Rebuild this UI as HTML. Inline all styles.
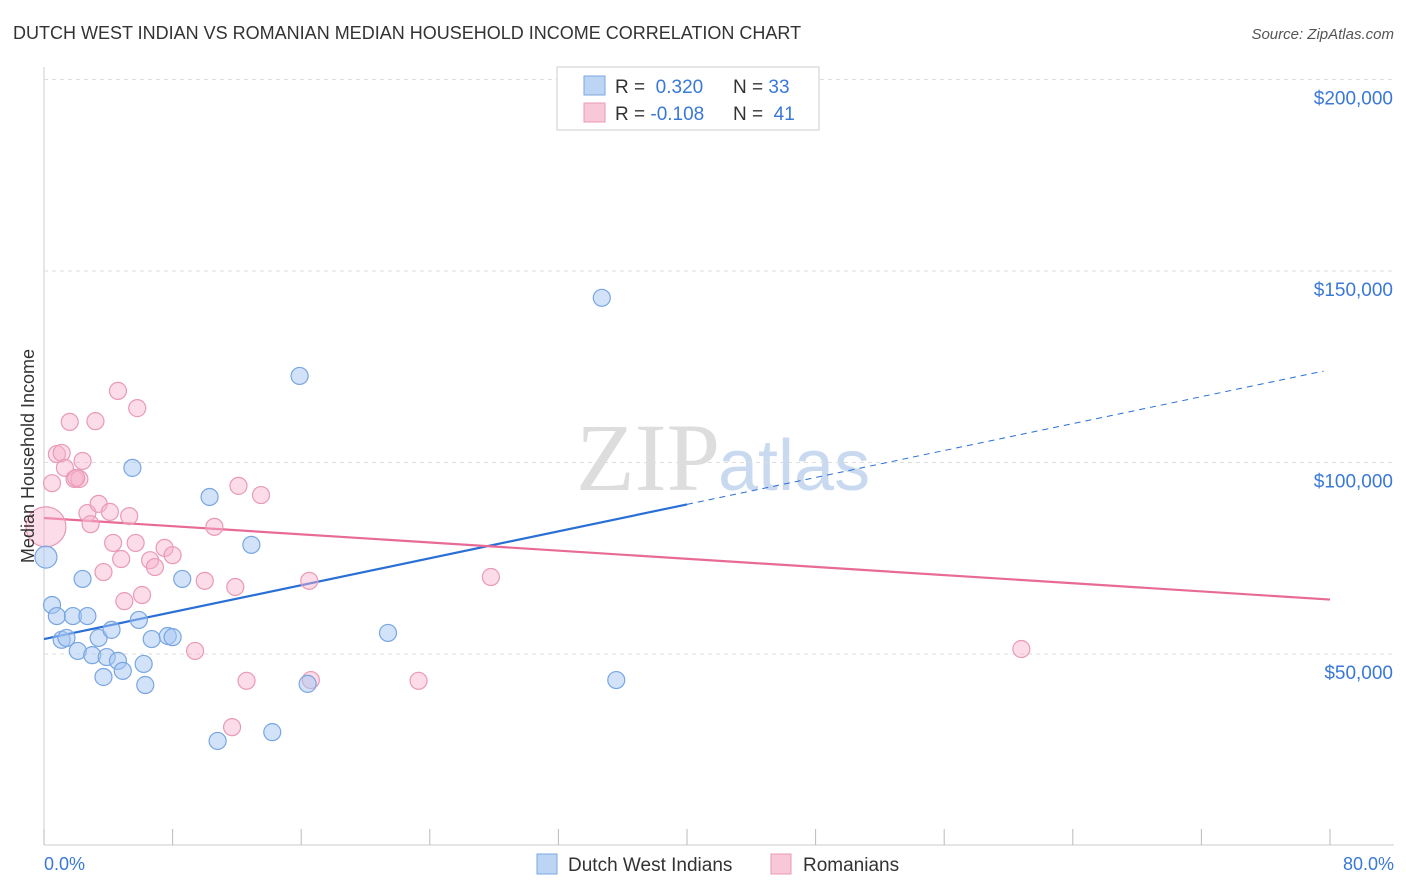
<!DOCTYPE html>
<html><head><meta charset="utf-8"><style>
body{margin:0;background:#fff;font-family:"Liberation Sans",sans-serif;}
svg{display:block}
</style></head><body>
<svg id="chart" width="1406" height="892">
<text x="13" y="39" font-size="18" fill="#333">DUTCH WEST INDIAN VS ROMANIAN MEDIAN HOUSEHOLD INCOME CORRELATION CHART</text>
<text x="1394" y="39" font-size="15" fill="#555" font-style="italic" text-anchor="end">Source: ZipAtlas.com</text>
<text x="720" y="490" font-size="96" fill="#ddd" text-anchor="end" font-family="Liberation Serif">ZIP</text>
<text x="718" y="490" font-size="72" fill="#c9daf0">atlas</text>
<g id="grid"></g><g id="ticks"></g><g id="trend"></g><g id="pts"></g>
<text transform="translate(34,456) rotate(-90)" font-size="18" fill="#333" text-anchor="middle">Median Household Income</text>
<text x="44" y="870" font-size="18" fill="#3a78d8">0.0%</text>
<text x="1394" y="870" font-size="18" fill="#3a78d8" text-anchor="end">80.0%</text>
<g>
<rect x="557" y="67" width="262" height="63" fill="#fff" stroke="#ccc"/>
<rect x="584" y="76" width="21" height="19" fill="#bcd5f5" stroke="#7aa7e0"/>
<rect x="584" y="103" width="21" height="19" fill="#f9c8d8" stroke="#e89ab5"/>
<text x="615" y="93" font-size="19" fill="#333">R = <tspan fill="#3a78d8">&#160;0.320</tspan><tspan x="733">N = </tspan><tspan fill="#3a78d8">33</tspan></text>
<text x="615" y="120" font-size="19" fill="#333">R = <tspan fill="#3a78d8">-0.108</tspan><tspan x="733">N = </tspan><tspan fill="#3a78d8">&#160;41</tspan></text>
</g>
<g>
<rect x="537" y="854" width="20" height="20" fill="#bcd5f5" stroke="#7aa7e0"/>
<text x="568" y="871" font-size="19" fill="#333">Dutch West Indians</text>
<rect x="771" y="854" width="20" height="20" fill="#f9c8d8" stroke="#e89ab5"/>
<text x="803" y="871" font-size="19" fill="#333">Romanians</text>
</g>
</svg>
<script>
const yTicks=[50000,100000,150000,200000];
const yTickLabels=["$50,000","$100,000","$150,000","$200,000"];
const xTicks=[0,8,16,24,32,40,48,56,64,72,80];
const blueX=[0.12,0.5,0.8,1.1,1.4,1.8,2.1,2.4,2.7,3.0,3.4,3.7,3.9,4.2,4.6,4.9,5.5,5.9,6.2,6.3,6.7,7.7,8.0,8.6,10.3,10.8,12.9,14.2,15.9,16.4,21.4,34.7,35.6];
const blueY=[75.3,62.8,59.9,53.7,54.2,59.9,50.8,69.6,59.9,49.7,54.2,44.0,49.2,56.3,48.2,45.6,98.6,58.9,47.4,41.9,53.9,54.7,54.4,69.6,91.0,27.3,78.5,29.6,122.6,42.2,55.5,143.0,43.2];
const pinkX=[0.12,0.5,0.8,1.1,1.3,1.6,1.9,2.2,2.4,2.7,2.9,3.2,3.4,3.7,4.1,4.3,4.6,4.8,5.0,5.3,5.7,5.8,6.1,6.6,6.9,7.5,8.0,9.4,10.0,10.6,11.7,11.9,12.1,12.6,13.5,16.5,16.6,23.3,27.8,60.8,2.0];
const pinkY=[83.2,94.6,102.2,102.5,98.6,110.6,95.7,95.7,100.4,86.8,83.9,110.8,89.2,71.4,87.1,79.0,118.7,74.8,63.8,86.0,79.0,114.2,65.4,74.5,72.7,77.7,75.8,50.8,69.1,83.2,30.9,67.5,93.9,43.0,91.5,69.1,43.2,43.0,70.1,51.3,96.0];
const blueTrend=[53.9,0.879];  // intercept (k$), slope per %
const pinkTrend=[85.5,-0.266];
const NS="http://www.w3.org/2000/svg";
const X=v=>44+v*(1286/80);
const Y=k=>845.5-k*1000*(191.5/50000);
function mk(tag,attrs,parent){const e=document.createElementNS(NS,tag);for(const k in attrs)e.setAttribute(k,attrs[k]);document.getElementById(parent).appendChild(e);return e;}
let l=mk('line',{x1:44,y1:67,x2:44,y2:845,stroke:'#ccc'},'grid');


l=mk('line',{x1:44,y1:845,x2:1394,y2:845,stroke:'#ccc'},'grid');


yTicks.forEach((t,i)=>{
 const g=mk('line',{x1:44,y1:Y(t/1000),x2:1394,y2:Y(t/1000),stroke:'#ddd','stroke-dasharray':'4,4'},'grid');
 
 
 const tx=mk('text',{x:1393,y:Y(t/1000)+25,'font-size':19,fill:'#3a78d8','text-anchor':'end'},'grid');
 tx.textContent=yTickLabels[i];
 
 
});
xTicks.forEach(t=>{
 const g=mk('line',{x1:X(t),y1:829,x2:X(t),y2:845,stroke:'#bbb'},'ticks');
 
 
});
const bt=v=>blueTrend[0]+blueTrend[1]*v, pt=v=>pinkTrend[0]+pinkTrend[1]*v;
l=mk('line',{x1:X(0),y1:Y(bt(0)),x2:X(40),y2:Y(bt(40)),stroke:'#2a6fd6','stroke-width':2.2},'trend');


l=mk('line',{x1:X(40),y1:Y(bt(40)),x2:X(79.6),y2:Y(bt(79.6)),stroke:'#2a6fd6','stroke-width':1,'stroke-dasharray':'6,5'},'trend');


l=mk('line',{x1:X(0),y1:Y(pt(0)),x2:X(80),y2:Y(pt(80)),stroke:'#e86a96','stroke-width':2.2},'trend');


pinkX.forEach((x,i)=>{
 const c=mk('circle',{cx:X(x),cy:Y(pinkY[i]),r:i===0?20:8.5,fill:'rgba(246,178,203,0.45)',stroke:'#e99ab6','stroke-width':1.2},'pts');
 
 
});
blueX.forEach((x,i)=>{
 const c=mk('circle',{cx:X(x),cy:Y(blueY[i]),r:i===0?11:8.5,fill:'rgba(165,198,242,0.5)',stroke:'#78a6e2','stroke-width':1.2},'pts');
 
 
});
</script>
</body></html>
